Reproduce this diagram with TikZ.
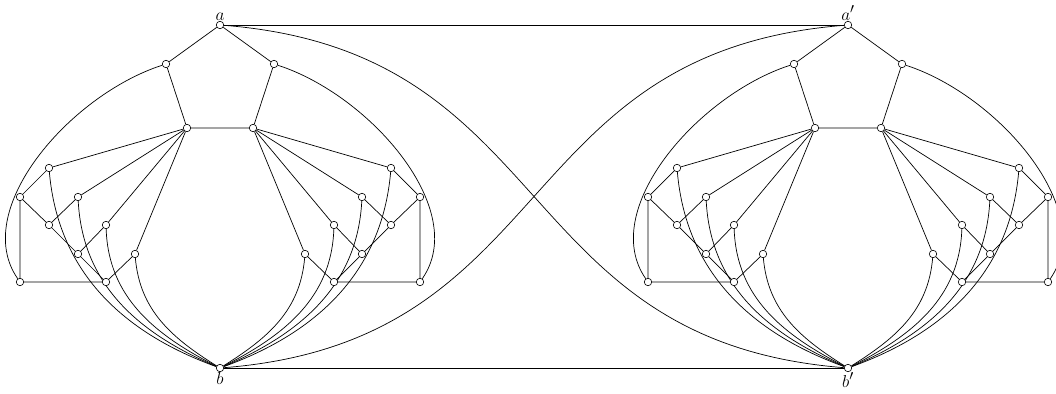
\documentclass[tikz,border=0pt]{standalone}
\usetikzlibrary{backgrounds}
\tikzset{
  vtx/.style={circle,draw,fill=white,inner sep=0pt,minimum size=7.5pt,line width=0.6pt},
  edge/.style={line width=0.7pt},
  lbl/.style={font=\fontsize{19}{19}\selectfont,inner sep=0.5pt}
}
\newcommand\mygadget[3]{%
\begin{scope}[xshift=#2]
\node[vtx,label={[lbl]above:$a#3$}] (#1a) at (220,-25) {};
\node[vtx,label={[lbl]below:$b#3$}] (#1b) at (220,-368) {};
\node[vtx] (#1pl) at (166,-64) {};
\node[vtx] (#1pr) at (274,-64) {};
\node[vtx] (#1ql) at (187,-128) {};
\node[vtx] (#1qr) at (253,-128) {};
\node[vtx] (#1t1) at (49,-168) {};
\node[vtx] (#1t2) at (78,-197) {};
\node[vtx] (#1t3) at (106,-225) {};
\node[vtx] (#1t4) at (135,-254) {};
\node[vtx] (#1u1) at (20,-197) {};
\node[vtx] (#1u2) at (49,-225) {};
\node[vtx] (#1u3) at (78,-254) {};
\node[vtx] (#1u4) at (106,-282) {};
\node[vtx] (#1c) at (20,-282) {};
\node[vtx] (#1T1) at (391,-168) {};
\node[vtx] (#1T2) at (362,-197) {};
\node[vtx] (#1T3) at (334,-225) {};
\node[vtx] (#1T4) at (305,-254) {};
\node[vtx] (#1U1) at (420,-197) {};
\node[vtx] (#1U2) at (391,-225) {};
\node[vtx] (#1U3) at (362,-254) {};
\node[vtx] (#1U4) at (334,-282) {};
\node[vtx] (#1C) at (420,-282) {};
\begin{pgfonlayer}{background}
\draw[edge] (#1pl) -- (#1a) -- (#1pr) -- (#1qr) -- (#1ql) -- (#1pl);
\foreach \i in {1,2,3,4}{
  \draw[edge] (#1ql) -- (#1t\i);
  \draw[edge] (#1qr) -- (#1T\i);
  \draw[edge] (#1t\i) -- (#1u\i);
  \draw[edge] (#1T\i) -- (#1U\i);
}
\draw[edge] (#1u1) -- (#1u2) -- (#1u3) -- (#1u4) -- (#1c) -- (#1u1);
\draw[edge] (#1U1) -- (#1U2) -- (#1U3) -- (#1U4) -- (#1C) -- (#1U1);
\draw[edge] (#1t1) to[out=-85,in=160] (#1b);
\draw[edge] (#1t2) to[out=-87,in=157] (#1b);
\draw[edge] (#1t3) to[out=-88,in=153] (#1b);
\draw[edge] (#1t4) to[out=-85,in=148] (#1b);
\draw[edge] (#1T1) to[out=-95,in=20] (#1b);
\draw[edge] (#1T2) to[out=-93,in=23] (#1b);
\draw[edge] (#1T3) to[out=-92,in=27] (#1b);
\draw[edge] (#1T4) to[out=-95,in=32] (#1b);
\draw[edge] (#1pl) .. controls (70,-95) and (-30,-210) .. (#1c);
\draw[edge] (#1pr) .. controls (370,-95) and (470,-210) .. (#1C);
\end{pgfonlayer}
\end{scope}}
\begin{document}
\begin{tikzpicture}[x=1pt,y=1pt]
\useasboundingbox (0,0) rectangle (1056,-393);
\mygadget{L}{0pt}{}
\mygadget{R}{628pt}{'}
\begin{pgfonlayer}{background}
\draw[edge] (La) -- (Ra);
\draw[edge] (Lb) -- (Rb);
\draw[edge] (La) .. controls (560,-52) and (508,-341) .. (Rb);
\draw[edge] (Ra) .. controls (508,-52) and (560,-341) .. (Lb);
\end{pgfonlayer}
\end{tikzpicture}
\end{document}
